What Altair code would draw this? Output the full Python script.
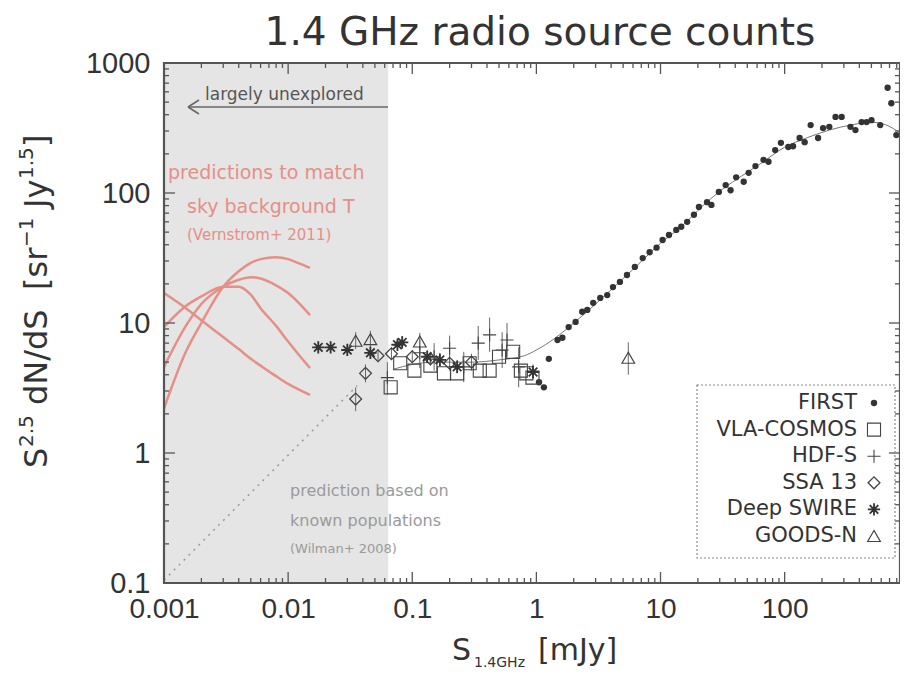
import altair as alt
import pandas as pd

W, H = 736, 520

# ---------------- data ----------------
first_x = [1.05, 1.15, 1.26, 1.48, 1.62, 1.82, 2.07, 2.34, 2.57, 2.87, 3.27, 3.72, 4.14, 4.71, 5.37,
           6.21, 7.19, 8.17, 9.29, 10.4, 11.7, 13.4, 14.7, 16.4, 18.6, 20.4, 23.7, 25.7, 29.5, 33.5,
           36.7, 40.7, 46.8, 51.3, 58.2, 67.6, 74.1, 83.9, 93.3, 107, 117, 132, 145, 162, 186, 204,
           229, 257, 288, 339, 372, 417, 457, 501, 589, 676, 724, 794]
first_y = [3.5, 3.2, 5.3, 7.4, 7.7, 9.3, 10.2, 12.2, 12.6, 14.3, 15.6, 16.4, 18.9, 20.7, 23.4,
           27, 31.6, 35, 38, 43.5, 47.5, 52, 55, 60, 68, 78, 85, 81, 102, 115,
           105, 132, 122, 143, 161, 180, 174, 214, 243, 226, 229, 265, 246, 333, 265, 316,
           323, 385, 385, 323, 305, 351, 351, 363, 333, 645, 490, 279]

cosmos_x = [0.067, 0.08, 0.104, 0.14, 0.18, 0.23, 0.29, 0.35, 0.42, 0.5, 0.65, 0.75, 0.83, 0.93]
cosmos_y = [3.2, 4.9, 4.3, 4.7, 4.1, 4.1, 4.9, 4.3, 4.3, 5.5, 6.0, 4.3, 4.1, 3.8]

hdfs_x = [0.063, 0.115, 0.15, 0.2, 0.26, 0.34, 0.42, 0.53, 0.58, 0.72]
hdfs_y = [3.8, 5.9, 5.5, 6.4, 4.6, 7.0, 8.1, 6.2, 7.4, 4.6]
hdfs_lo = [2.8, 4.5, 4.3, 5.0, 3.5, 5.2, 6.0, 4.5, 5.5, 3.2]
hdfs_hi = [5.0, 7.5, 7.0, 8.0, 6.0, 9.5, 11.0, 8.5, 10.0, 6.5]

ssa_x = [0.035, 0.042, 0.053, 0.068, 0.1, 0.14, 0.2, 0.3]
ssa_y = [2.6, 4.1, 5.6, 5.8, 5.5, 5.3, 4.9, 5.0]
ssa_lo = [2.1, 3.5, 5.0, 5.2, 4.9, 4.7, 4.3, 4.3]
ssa_hi = [3.2, 4.8, 6.3, 6.5, 6.2, 6.0, 5.5, 5.8]

swire_x = [0.0175, 0.022, 0.030, 0.046, 0.076, 0.083, 0.132, 0.167, 0.23, 0.94]
swire_y = [6.5, 6.5, 6.2, 5.9, 6.8, 7.1, 5.5, 5.2, 4.6, 4.2]
swire_lo = [5.9, 5.9, 5.6, 5.3, 6.1, 6.4, 4.9, 4.6, 4.1, 3.7]
swire_hi = [7.2, 7.2, 6.9, 6.6, 7.6, 7.9, 6.2, 5.9, 5.2, 4.8]

goods_x = [0.035, 0.046, 0.115, 5.5]
goods_y = [7.3, 7.5, 7.2, 5.4]
goods_lo = [6.3, 6.5, 6.2, 4.0]
goods_hi = [8.5, 8.7, 8.4, 7.1]

fit_x = [0.07, 0.1, 0.15, 0.2, 0.3, 0.5, 0.8, 1.0, 1.4, 2.0, 3.0, 4.5, 6.3, 10, 15, 22, 32, 45,
         65, 100, 150, 230, 350, 500, 650, 850]
fit_y = [4.4, 4.8, 5.0, 5.0, 5.0, 5.2, 5.6, 6.2, 7.6, 10, 14, 20, 27, 41, 56, 80, 108, 135,
         170, 225, 265, 305, 335, 350, 335, 290]

# Vernstrom+ 2011 model curves
vern_x = [0.001, 0.0015, 0.002, 0.003, 0.004, 0.005, 0.006, 0.008, 0.01, 0.012, 0.015]
vern_a = [17, 13, 10.5, 7.8, 6.3, 5.3, 4.7, 3.9, 3.4, 3.1, 2.8]
vern_b = [2.2, 6, 10, 19, 25, 29, 31, 32, 31, 29, 26.5]
vern_c = [4.6, 9.5, 14, 19, 21.5, 22.5, 22, 19.5, 17, 14.5, 11.5]
vern_d = [9.3, 13.5, 16, 19, 19, 16.5, 13, 9.5, 7.2, 5.8, 4.5]

# Wilman+ 2008 prediction (dotted)
wil_x = [0.001, 0.036]
wil_y = [0.105, 3.3]

shade_x = [0.001, 0.064]

x_major = [0.001, 0.01, 0.1, 1, 10, 100]
y_major = [0.1, 1, 10, 100, 1000]
x_minor = [m * d for d in [0.001, 0.01, 0.1, 1, 10, 100] for m in range(2, 10) if m * d <= 850]
y_minor = [m * d for d in [0.1, 1, 10, 100] for m in range(2, 10)]

legend_names = ["FIRST", "VLA-COSMOS", "HDF-S", "SSA 13", "Deep SWIRE", "GOODS-N"]

# ---------------- styling ----------------
INK = "#444444"
TXT = "#333333"
RED = "#e58f86"
PLUS = "M-1,0L1,0M0,-1L0,1"
STAR = "M-1,0L1,0M0,-1L0,1M-0.7,-0.7L0.7,0.7M-0.7,0.7L0.7,-0.7"

xscale = alt.Scale(type="log", domain=[0.001, 850], nice=False)
yscale = alt.Scale(type="log", domain=[0.1, 1000], nice=False)
xaxis = alt.Axis(values=x_major, format="~g", title=None, ticks=False, domain=False, grid=False,
                 labelFontSize=28, labelPadding=12, labelFont="Liberation Sans",
                 labelColor=TXT, labelFlush=False)
yaxis = alt.Axis(values=y_major, format="~g", title=None, ticks=False, domain=False, grid=False,
                 labelFontSize=29, labelPadding=14, labelFont="Liberation Sans",
                 labelColor=TXT, labelFlush=False)


def X(f):
    return alt.X(f, type="quantitative", scale=xscale, axis=xaxis)


def Y(f):
    return alt.Y(f, type="quantitative", scale=yscale, axis=yaxis)


one = pd.DataFrame({"a": [0]})
layers = []

# shaded region
shade = pd.DataFrame({"x0": [shade_x[0]], "x1": [shade_x[1]], "y0": [0.1], "y1": [1000]})
layers.append(alt.Chart(shade).mark_rect(color="#e5e5e5").encode(
    x=X("x0"), x2="x1", y=Y("y0"), y2="y1"))

# Vernstrom curves
vdf = pd.concat([pd.DataFrame({"x": vern_x, "y": v, "c": k})
                 for k, v in zip("abcd", [vern_a, vern_b, vern_c, vern_d])])
layers.append(alt.Chart(vdf).mark_line(color=RED, strokeWidth=2.5, interpolate="monotone").encode(
    x=X("x"), y=Y("y"), detail="c:N"))

# Wilman dotted
layers.append(alt.Chart(pd.DataFrame({"x": wil_x, "y": wil_y})).mark_line(
    color="#999999", strokeWidth=1.5, strokeDash=[2, 5]).encode(x=X("x"), y=Y("y")))

# fit line
layers.append(alt.Chart(pd.DataFrame({"x": fit_x, "y": fit_y})).mark_line(
    color="#777777", strokeWidth=1, interpolate="monotone").encode(x=X("x"), y=Y("y")))


def errbars(xs, lo, hi):
    d = pd.DataFrame({"x": xs, "lo": lo, "hi": hi})
    return alt.Chart(d).mark_rule(color="#666666", strokeWidth=1).encode(
        x=X("x"), y=Y("lo"), y2="hi")


layers.append(errbars(hdfs_x, hdfs_lo, hdfs_hi))
layers.append(errbars(ssa_x, ssa_lo, ssa_hi))
layers.append(errbars(swire_x, swire_lo, swire_hi))
layers.append(errbars(goods_x, goods_lo, goods_hi))

series = [
    (first_x, first_y, dict(shape="circle", filled=True, size=40, color="#333333", opacity=1)),
    (cosmos_x, cosmos_y, dict(shape="square", filled=False, size=170, color=INK, strokeWidth=1.1, opacity=1)),
    (hdfs_x, hdfs_y, dict(shape=PLUS, filled=False, size=170, color=INK, strokeWidth=1.1, opacity=1)),
    (ssa_x, ssa_y, dict(shape="diamond", filled=False, size=140, color=INK, strokeWidth=1.3, opacity=1)),
    (swire_x, swire_y, dict(shape=STAR, filled=False, size=150, color="#333333", strokeWidth=1.8, opacity=1)),
    (goods_x, goods_y, dict(shape="triangle-up", filled=False, size=160, color=INK, strokeWidth=1.2, opacity=1)),
]
for xs, ys, st in series:
    layers.append(alt.Chart(pd.DataFrame({"x": xs, "y": ys})).mark_point(**st).encode(
        x=X("x"), y=Y("y")))

# inward ticks (IDL style) on all four sides
xmaj = pd.DataFrame({"v": x_major})
xmin = pd.DataFrame({"v": x_minor})
ymaj = pd.DataFrame({"v": y_major})
ymin = pd.DataFrame({"v": y_minor})
TC = "#555555"
for df, ln in [(xmaj, 11), (xmin, 5)]:
    layers.append(alt.Chart(df).mark_rule(color=TC, strokeWidth=1.3).encode(
        x=X("v"), y=alt.value(H), y2=alt.value(H - ln)))
    layers.append(alt.Chart(df).mark_rule(color=TC, strokeWidth=1.3).encode(
        x=X("v"), y=alt.value(0), y2=alt.value(ln)))
for df, ln in [(ymaj, 11), (ymin, 5)]:
    layers.append(alt.Chart(df).mark_rule(color=TC, strokeWidth=1.3).encode(
        y=Y("v"), x=alt.value(0), x2=alt.value(ln)))
    layers.append(alt.Chart(df).mark_rule(color=TC, strokeWidth=1.3).encode(
        y=Y("v"), x=alt.value(W), x2=alt.value(W - ln)))

# frame
layers.append(alt.Chart(one).mark_rect(filled=False, stroke="#555555", strokeWidth=2.2).encode(
    x=alt.value(0), x2=alt.value(W), y=alt.value(0), y2=alt.value(H)))


def txt(s, x, y, size, color, align="left", font="DejaVu Sans", angle=0, baseline="middle"):
    kw = dict(text=s, fontSize=size, color=color, align=align, font=font, baseline=baseline)
    if angle:
        kw["angle"] = angle
    return alt.Chart(one).mark_text(**kw).encode(x=alt.value(x), y=alt.value(y))


# annotations
layers.append(txt("largely unexplored", 41, 32, 17, "#555555"))
layers.append(alt.Chart(one).mark_rule(color="#666666", strokeWidth=1.5).encode(
    x=alt.value(24), x2=alt.value(224), y=alt.value(44)))
layers.append(alt.Chart(one).mark_rule(color="#666666", strokeWidth=1.5).encode(
    x=alt.value(24), x2=alt.value(35), y=alt.value(44), y2=alt.value(37)))
layers.append(alt.Chart(one).mark_rule(color="#666666", strokeWidth=1.5).encode(
    x=alt.value(24), x2=alt.value(35), y=alt.value(44), y2=alt.value(51)))
layers.append(txt("predictions to match", 4, 110, 19, RED))
layers.append(txt("sky background T", 23, 144, 19, RED))
layers.append(txt("(Vernstrom+ 2011)", 23, 172, 15, RED))
layers.append(txt("prediction based on", 126, 428, 16, "#9a9a9a"))
layers.append(txt("known populations", 126, 458, 16, "#9a9a9a"))
layers.append(txt("(Wilman+ 2008)", 126, 486, 13, "#9a9a9a"))

# legend box + entries
layers.append(alt.Chart(one).mark_rect(filled=False, stroke="#888888", strokeWidth=1.2,
                                       strokeDash=[2, 2]).encode(
    x=alt.value(533), x2=alt.value(731), y=alt.value(322), y2=alt.value(495)))
for i, (name, (_, _, st)) in enumerate(zip(legend_names, series)):
    yy = 340 + i * 26.6
    layers.append(txt(name, 693, yy, 21, TXT, align="right"))
    layers.append(alt.Chart(one).mark_point(**st).encode(x=alt.value(710), y=alt.value(yy)))

# title
layers.append(txt("1.4 GHz radio source counts", 376, -30, 39, TXT, align="center"))

# y-axis title built from pieces (rotated, reading upward) to get real superscripts
MB, SB = -117, -131          # baselines of normal and superscript text
# (text, font size, baseline x, advance incl. following gap)
ypieces = [("S", 32, MB, 21.0), ("2.5", 20, SB, 42.0), ("dN/dS", 32, MB, 115.0),
           ("[sr", 32, MB, 43.0), ("\u22121", 20, SB, 39.0), ("Jy", 32, MB, 29.0),
           ("1.5", 20, SB, 32.0), ("]", 32, MB, 12.5)]
yy = 405
for s, fs, bx, w in ypieces:
    layers.append(txt(s, bx, yy, fs, TXT, angle=270, baseline="alphabetic"))
    yy -= w

# x-axis title with subscript
layers.append(txt("S", 288, 597, 30, TXT, baseline="alphabetic"))
layers.append(txt("1.4GHz", 310, 604, 14, TXT, baseline="alphabetic"))
layers.append(txt("[mJy]", 374, 597, 30, TXT, baseline="alphabetic"))

chart = alt.layer(*layers).properties(
    width=W, height=H,
    autosize=alt.AutoSizeParams(type="none"),
    padding={"left": 156, "top": 55, "right": 0, "bottom": 88},
).configure_view(stroke=None)

chart.save("out.html", embed_options={"renderer": "svg", "actions": False})
